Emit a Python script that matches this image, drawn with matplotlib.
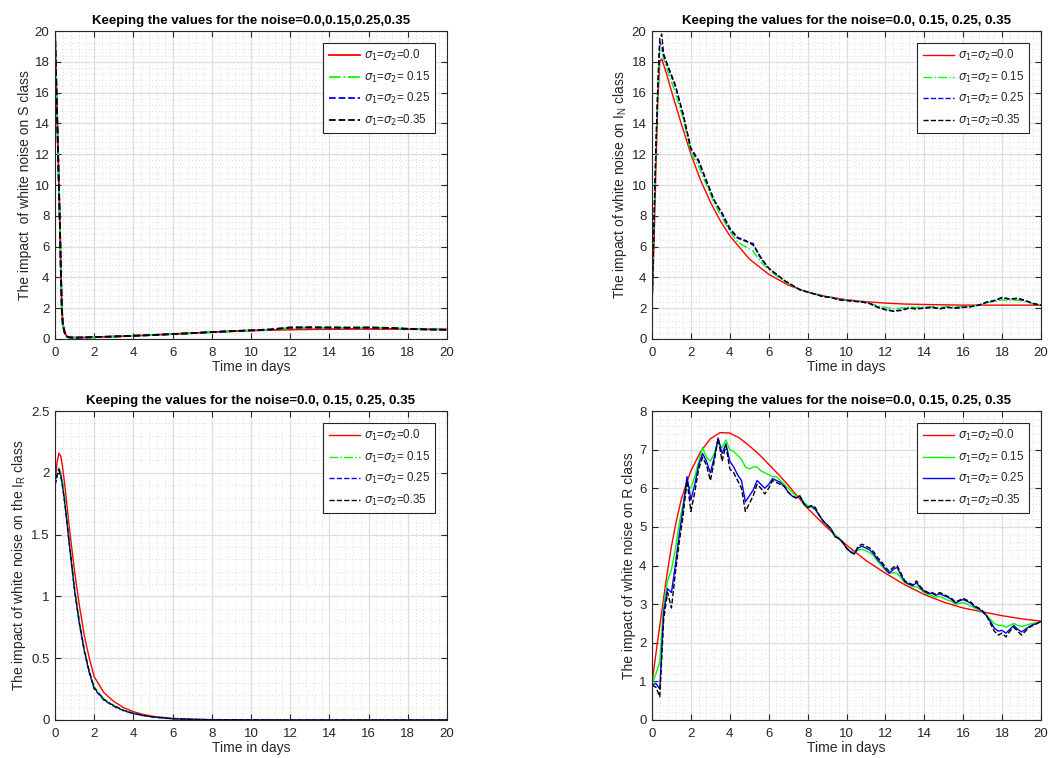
import numpy as np
import matplotlib
matplotlib.use("Agg")
import matplotlib.pyplot as plt
from matplotlib.ticker import MultipleLocator, FuncFormatter

plt.rcParams['font.family'] = ['Liberation Sans', 'DejaVu Sans']
plt.rcParams['mathtext.fontset'] = 'dejavusans'

# ---------------- S class ----------------
t_S = [0, 0.05, 0.1, 0.15, 0.2, 0.25, 0.3, 0.35, 0.4, 0.5, 0.6, 0.7, 0.8, 1, 1.5, 2, 3, 4, 5, 6, 7, 8,
       9, 10, 11, 12, 13, 14, 15, 16, 17, 18, 19, 20]
S_00 = [20, 17.5, 15, 12.5, 10, 7.5, 4.5, 2.0, 1.0, 0.4, 0.18, 0.12, 0.1, 0.09, 0.1, 0.12, 0.16, 0.21, 0.26,
        0.32, 0.38, 0.44, 0.5, 0.55, 0.58, 0.61, 0.63, 0.64, 0.65, 0.65, 0.65, 0.64, 0.63, 0.62]
S_15 = [20, 17.4, 14.9, 12.4, 9.9, 7.4, 4.4, 1.9, 0.95, 0.38, 0.17, 0.11, 0.1, 0.09, 0.1, 0.12, 0.16, 0.21,
        0.26, 0.32, 0.38, 0.45, 0.5, 0.55, 0.6, 0.7, 0.72, 0.72, 0.71, 0.72, 0.71, 0.66, 0.63, 0.61]
S_25 = [20, 17.4, 14.9, 12.4, 9.9, 7.4, 4.4, 1.9, 0.95, 0.38, 0.17, 0.11, 0.1, 0.09, 0.1, 0.12, 0.16, 0.21,
        0.26, 0.32, 0.38, 0.45, 0.51, 0.56, 0.62, 0.74, 0.75, 0.74, 0.73, 0.74, 0.72, 0.66, 0.62, 0.6]
S_35 = [20, 17.3, 14.8, 12.3, 9.8, 7.3, 4.3, 1.85, 0.92, 0.37, 0.16, 0.11, 0.1, 0.09, 0.1, 0.12, 0.16, 0.21,
        0.26, 0.32, 0.38, 0.45, 0.51, 0.56, 0.62, 0.75, 0.76, 0.75, 0.74, 0.75, 0.72, 0.66, 0.62, 0.6]

# ---------------- I_N class ----------------
t_IN_red = [0, 0.1, 0.2, 0.3, 0.4, 0.5, 0.75, 1, 1.5, 2, 2.5, 3, 3.5, 4, 5, 6, 7, 8, 9, 10, 11, 12, 13,
            14, 16, 18, 20]
IN_00 = [2.0, 6.0, 11.0, 15.5, 18.0, 18.2, 17.2, 16.1, 14.0, 12.0, 10.3, 8.9, 7.7, 6.7, 5.2, 4.2, 3.5,
         3.05, 2.75, 2.55, 2.42, 2.33, 2.27, 2.24, 2.2, 2.2, 2.2]
t_IN = [0, 0.1, 0.2, 0.3, 0.4, 0.5, 0.6, 0.8, 1.2, 1.6, 2.0, 2.4, 2.8, 3.2, 3.6, 4.0, 4.4, 4.8, 5.2, 5.6,
        6.0, 6.4, 6.8, 7.2, 7.6, 8.0, 8.4, 8.8, 9.2, 9.6, 10.0, 10.4, 10.8, 11.2, 11.6, 12.0, 12.4, 12.8,
        13.2, 13.6, 14.0, 14.4, 14.8, 15.2, 15.6, 16.0, 16.4, 16.8, 17.2, 17.6, 18.0, 18.4, 18.8, 19.2,
        19.6, 20.0]
IN_15 = [2.0, 7.2, 12.0, 16.0, 18.8, 18.8, 18.2, 17.4, 16.0, 14.3, 12.1, 11.2, 10.0, 8.8, 7.9, 7.0, 6.3,
         6.0, 5.7, 5.0, 4.5, 4.1, 3.75, 3.45, 3.2, 3.05, 2.9, 2.78, 2.7, 2.58, 2.52, 2.47, 2.42, 2.33, 2.15,
         2.05, 1.98, 2.0, 2.08, 2.05, 2.08, 2.1, 2.05, 2.1, 2.08, 2.1, 2.12, 2.2, 2.35, 2.42, 2.55, 2.5,
         2.52, 2.42, 2.3, 2.22]
IN_25 = [2.0, 7.4, 12.3, 16.3, 19.3, 19.0, 18.4, 17.7, 16.4, 14.6, 12.3, 11.5, 10.2, 9.0, 8.1, 7.1, 6.55,
         6.35, 6.2, 5.2, 4.6, 4.2, 3.8, 3.5, 3.2, 3.05, 2.9, 2.75, 2.7, 2.55, 2.5, 2.45, 2.4, 2.3, 2.08,
         1.92, 1.83, 1.88, 2.02, 1.97, 2.02, 2.06, 1.97, 2.06, 2.02, 2.06, 2.1, 2.2, 2.38, 2.48, 2.68,
         2.58, 2.62, 2.48, 2.3, 2.2]
IN_35 = [2.0, 7.5, 12.5, 16.5, 19.5, 19.8, 18.5, 17.8, 16.5, 14.6, 12.4, 11.6, 10.3, 9.0, 8.2, 7.2, 6.6,
         6.4, 6.1, 5.3, 4.6, 4.2, 3.8, 3.5, 3.2, 3.05, 2.9, 2.75, 2.7, 2.55, 2.5, 2.45, 2.4, 2.3, 2.05,
         1.9, 1.8, 1.85, 2.0, 1.95, 2.0, 2.05, 1.95, 2.05, 2.0, 2.05, 2.1, 2.2, 2.4, 2.5, 2.7, 2.6, 2.65,
         2.5, 2.3, 2.2]

# ---------------- I_R class ----------------
t_IR = [0, 0.1, 0.2, 0.3, 0.4, 0.5, 0.75, 1, 1.25, 1.5, 1.75, 2, 2.5, 3, 3.5, 4, 4.5, 5, 6, 7, 8, 10,
        12, 14, 16, 18, 20]
IR_00 = [1.9, 2.08, 2.16, 2.13, 2.03, 1.9, 1.53, 1.2, 0.92, 0.68, 0.5, 0.35, 0.22, 0.15, 0.1, 0.067,
         0.045, 0.03, 0.013, 0.006, 0.003, 0.001, 0, 0, 0, 0, 0]
IR_15 = [1.9, 2.0, 2.04, 2.0, 1.92, 1.8, 1.43, 1.08, 0.8, 0.57, 0.4, 0.27, 0.17, 0.12, 0.08, 0.055,
         0.038, 0.025, 0.011, 0.005, 0.002, 0.001, 0, 0, 0, 0, 0]
IR_25 = [1.9, 1.98, 2.03, 1.98, 1.88, 1.76, 1.39, 1.04, 0.77, 0.55, 0.38, 0.25, 0.16, 0.11, 0.075,
         0.052, 0.036, 0.024, 0.01, 0.005, 0.002, 0.001, 0, 0, 0, 0, 0]
IR_35 = [1.9, 1.97, 2.02, 1.97, 1.87, 1.75, 1.4, 1.05, 0.78, 0.56, 0.39, 0.26, 0.165, 0.115, 0.078,
         0.053, 0.037, 0.024, 0.01, 0.005, 0.002, 0.001, 0, 0, 0, 0, 0]

# ---------------- R class ----------------
t_R_red = [0, 0.25, 0.5, 0.75, 1, 1.25, 1.5, 1.75, 2, 2.5, 3, 3.5, 4, 4.5, 5, 5.5, 6, 6.5, 7, 7.5, 8,
           9, 10, 11, 12, 13, 14, 15, 16, 17, 18, 19, 20]
R_00 = [0.95, 1.9, 2.8, 3.7, 4.5, 5.15, 5.7, 6.1, 6.45, 6.95, 7.28, 7.44, 7.43, 7.3, 7.1, 6.88, 6.62,
        6.36, 6.08, 5.78, 5.48, 4.98, 4.53, 4.13, 3.8, 3.5, 3.25, 3.05, 2.9, 2.8, 2.7, 2.62, 2.56]
t_R = [round(0.2 * k, 1) for k in range(101)]
R_15 = [0.9, 1.2, 1.5, 3.0, 3.6, 3.9, 4.4, 5.1, 5.6, 6.1, 6.0, 6.3, 6.7, 7.05, 6.8, 6.7, 6.9, 7.2, 7.05,
        7.25, 7.0, 6.95, 6.85, 6.75, 6.55, 6.5, 6.55, 6.55, 6.45, 6.4, 6.35, 6.3, 6.3, 6.2, 6.1, 6.0, 5.9,
        5.8, 5.8, 5.65, 5.55, 5.5, 5.45, 5.3, 5.15, 5.05, 4.95, 4.8, 4.7, 4.6, 4.45, 4.38, 4.33, 4.4, 4.42,
        4.38, 4.33, 4.25, 4.1, 4.0, 3.88, 3.8, 3.82, 3.8, 3.68, 3.55, 3.5, 3.45, 3.45, 3.38, 3.3, 3.25,
        3.22, 3.18, 3.2, 3.15, 3.1, 3.07, 3.0, 3.02, 3.04, 3.0, 2.95, 2.9, 2.85, 2.8, 2.72, 2.6, 2.5, 2.45,
        2.45, 2.4, 2.45, 2.5, 2.45, 2.42, 2.45, 2.48, 2.5, 2.52, 2.55]
R_25 = [0.9, 0.95, 0.8, 2.8, 3.4, 3.3, 4.0, 4.8, 5.5, 6.3, 5.7, 6.1, 6.6, 6.9, 6.7, 6.4, 6.8, 7.3, 6.9,
        7.15, 6.7, 6.55, 6.35, 6.2, 5.65, 5.8, 5.95, 6.2, 6.1, 6.0, 6.1, 6.25, 6.2, 6.15, 6.05, 5.9, 5.8,
        5.75, 5.8, 5.6, 5.5, 5.55, 5.45, 5.3, 5.15, 5.05, 4.95, 4.75, 4.7, 4.6, 4.45, 4.35, 4.3, 4.45, 4.5,
        4.45, 4.4, 4.3, 4.15, 4.05, 3.9, 3.8, 3.9, 3.95, 3.75, 3.58, 3.52, 3.48, 3.55, 3.42, 3.33, 3.28,
        3.28, 3.23, 3.27, 3.22, 3.18, 3.12, 3.03, 3.08, 3.12, 3.07, 3.02, 2.93, 2.88, 2.8, 2.7, 2.55, 2.38,
        2.3, 2.32, 2.25, 2.35, 2.45, 2.35, 2.28, 2.35, 2.42, 2.47, 2.5, 2.55]
R_35 = [0.9, 0.85, 0.6, 2.6, 3.3, 2.9, 3.8, 4.6, 5.3, 6.2, 5.4, 5.9, 6.5, 6.8, 6.6, 6.2, 6.7, 7.3, 6.7,
        7.1, 6.5, 6.4, 6.2, 6.0, 5.4, 5.6, 5.8, 6.1, 6.0, 5.85, 6.0, 6.2, 6.15, 6.1, 6.05, 5.9, 5.8, 5.75,
        5.8, 5.6, 5.5, 5.55, 5.5, 5.3, 5.15, 5.05, 4.95, 4.75, 4.7, 4.6, 4.45, 4.35, 4.3, 4.5, 4.55, 4.5,
        4.45, 4.35, 4.2, 4.1, 3.95, 3.85, 3.95, 4.0, 3.8, 3.6, 3.55, 3.5, 3.6, 3.45, 3.35, 3.3, 3.3, 3.25,
        3.3, 3.25, 3.2, 3.15, 3.05, 3.1, 3.15, 3.1, 3.05, 2.95, 2.9, 2.82, 2.7, 2.5, 2.3, 2.2, 2.25, 2.15,
        2.3, 2.4, 2.3, 2.2, 2.3, 2.4, 2.45, 2.5, 2.55]

legend_labels = [r'$\sigma_1$=$\sigma_2$=0.0', r'$\sigma_1$=$\sigma_2$= 0.15',
                 r'$\sigma_1$=$\sigma_2$= 0.25', r'$\sigma_1$=$\sigma_2$=0.35']

title_a = 'Keeping the values for the noise=0.0,0.15,0.25,0.35'
title_b = 'Keeping the values for the noise=0.0, 0.15, 0.25, 0.35'

fig = plt.figure(figsize=(10.48, 7.58), dpi=100)
W, H = 1048, 758
positions = [(55, 31, 447, 339), (652, 31, 1041, 339), (55, 411, 447, 720), (652, 411, 1041, 720)]
axes = []
for (x0, y0, x1, y1) in positions:
    axes.append(fig.add_axes([x0 / W, 1 - y1 / H, (x1 - x0) / W, (y1 - y0) / H]))

AX_COL = '#262626'
fmt = FuncFormatter(lambda v, p: '%g' % round(v, 6))


def style(ax, ymax, ymaj, title, ylabel):
    ax.set_xlim(0, 20)
    ax.set_ylim(0, ymax)
    ax.xaxis.set_major_locator(MultipleLocator(2))
    ax.xaxis.set_minor_locator(MultipleLocator(0.4))
    ax.yaxis.set_major_locator(MultipleLocator(ymaj))
    ax.yaxis.set_minor_locator(MultipleLocator(ymaj / 5))
    ax.xaxis.set_major_formatter(fmt)
    ax.yaxis.set_major_formatter(fmt)
    ax.grid(True, which='major', color='#dedede', linewidth=0.9, linestyle='-')
    ax.grid(True, which='minor', color='#cfcfcf', linewidth=0.6, linestyle=(0, (1, 3)))
    ax.set_axisbelow(True)
    ax.tick_params(axis='x', which='major', pad=5.5)
    ax.tick_params(axis='y', which='major', pad=4)
    ax.tick_params(which='major', direction='in', length=4, width=0.8, top=True, right=True,
                   labelsize=9.5, colors=AX_COL)
    ax.tick_params(which='minor', length=0, top=True, right=True)
    for s in ax.spines.values():
        s.set_color(AX_COL)
        s.set_linewidth(0.8)
    ax.set_title(title, fontsize=9.5, fontweight='bold', color='black', pad=5)
    ax.set_xlabel('Time in days', fontsize=10, color=AX_COL, labelpad=1)
    ax.set_ylabel(ylabel, fontsize=10, color=AX_COL, labelpad=2)
    leg = ax.legend(loc='upper right', fontsize=8.3, frameon=True, fancybox=False,
                    edgecolor=AX_COL, framealpha=1, borderaxespad=1.0, handlelength=2.7,
                    labelspacing=0.55, borderpad=0.5, handletextpad=0.3)
    leg.get_frame().set_linewidth(0.8)
    for txt in leg.get_texts():
        txt.set_color(AX_COL)


# S class
ax = axes[0]
ax.plot(t_S, S_00, color='#ff0000', lw=1.3, label=legend_labels[0])
ax.plot(t_S, S_15, color='#00ff00', lw=1.3, ls='-.', label=legend_labels[1])
ax.plot(t_S, S_25, color='#0000ff', lw=1.3, ls='--', label=legend_labels[2])
ax.plot(t_S, S_35, color='black', lw=1.3, ls='--', label=legend_labels[3])
style(ax, 20, 2, title_a, 'The impact  of white noise on S class')

# I_N class
ax = axes[1]
ax.plot(t_IN_red, IN_00, color='#ff0000', lw=1.0, label=legend_labels[0])
ax.plot(t_IN, IN_15, color='#00ff00', lw=1.0, ls='-.', label=legend_labels[1])
ax.plot(t_IN, IN_25, color='#0000ff', lw=1.0, ls='--', label=legend_labels[2])
ax.plot(t_IN, IN_35, color='black', lw=1.0, ls='--', label=legend_labels[3])
style(ax, 20, 2, title_b, 'The impact of white noise on I$_\\mathregular{N}$ class')

# I_R class
ax = axes[2]
ax.plot(t_IR, IR_00, color='#ff0000', lw=1.0, label=legend_labels[0])
ax.plot(t_IR, IR_15, color='#00ff00', lw=1.0, ls='-.', label=legend_labels[1])
ax.plot(t_IR, IR_25, color='#0000ff', lw=1.0, ls='--', label=legend_labels[2])
ax.plot(t_IR, IR_35, color='black', lw=1.0, ls='--', label=legend_labels[3])
style(ax, 2.5, 0.5, title_b, 'The impact of white noise on the I$_\\mathregular{R}$ class')

# R class
ax = axes[3]
ax.plot(t_R_red, R_00, color='#ff0000', lw=1.0, label=legend_labels[0])
ax.plot(t_R, R_15, color='#00ff00', lw=1.0, label=legend_labels[1])
ax.plot(t_R, R_25, color='#0000ff', lw=1.0, label=legend_labels[2])
ax.plot(t_R, R_35, color='black', lw=1.0, ls='--', label=legend_labels[3])
style(ax, 8, 1, title_b, 'The impact of white noise on R class')

fig.savefig('out.png', dpi=100)
